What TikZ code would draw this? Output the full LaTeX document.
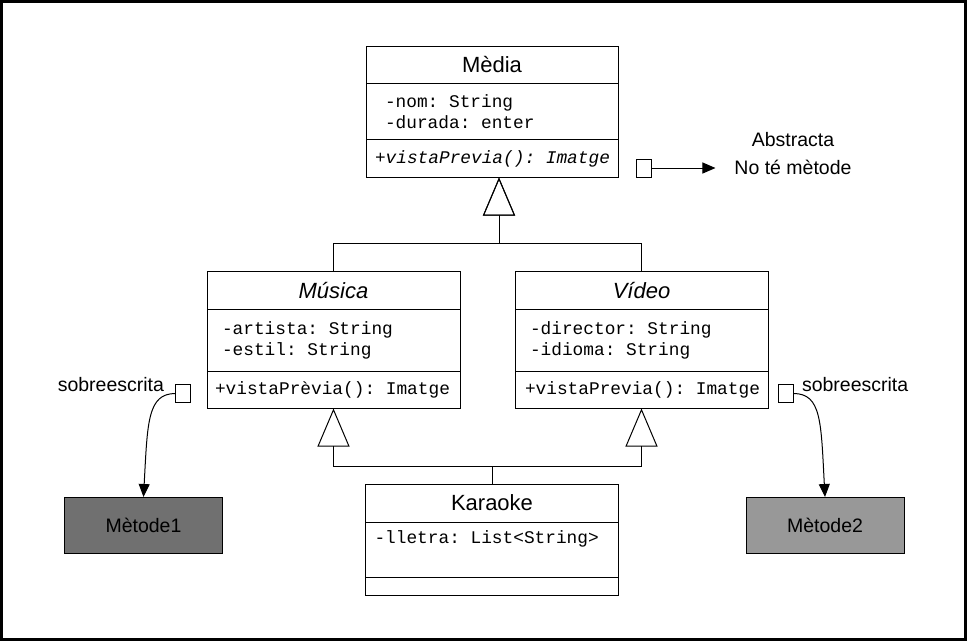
\documentclass[tikz,border=0pt]{standalone}
\usepackage{fontspec}
\setmainfont{Liberation Sans}
\setmonofont{Liberation Mono}
\usetikzlibrary{arrows.meta,positioning}
\definecolor{metodeA}{RGB}{112,112,112}
\definecolor{metodeB}{RGB}{152,152,152}

\begin{document}
\begin{tikzpicture}[x=1pt, y=-1pt, line width=1pt,
  every node/.style = {inner sep=0pt, outer sep=0pt},
  titlebox/.style = {draw, minimum height=38pt, minimum width=253pt,
    font=\fontsize{22}{26}\selectfont},
  cellbox/.style = {draw, minimum width=253pt},
  attr/.style = {align=left, font=\fontsize{17.8}{21}\selectfont\ttfamily},
  lbl/.style = {font=\fontsize{19.5}{27.3}\selectfont},
  note/.style = {draw, fill=white, minimum width=15pt, minimum height=18pt},
  metode/.style = {draw, minimum width=158pt, minimum height=56pt,
    font=\fontsize{19.5}{24}\selectfont},
  gen/.style = {-{Triangle[open, length=38pt, width=32pt]}},
  ptr/.style = {-{Triangle[length=13pt, width=11pt]}}]
  \useasboundingbox (0,0) rectangle (967,641);
  \draw[line width=3pt] (1.5,1.5) rectangle (965.5,639.5);

  % Media
  \node[titlebox, minimum height=37pt, minimum width=252pt] (media) at (492,65) {Mèdia};
  \node[cellbox, minimum width=252pt, minimum height=56pt, below=0pt of media] (mediaAttr) {};
  \node[cellbox, minimum width=252pt, minimum height=38pt, below=0pt of mediaAttr] (mediaOp) {};
  \node[attr, right=19pt of mediaAttr.west] (mediaAttrTxt) {-nom: String\\-durada: enter};
  \node[attr, right=9pt of mediaOp.west, font=\fontsize{17.8}{21}\selectfont\ttfamily\itshape]
    (mediaOpTxt) {+vistaPrevia(): Imatge};

  % Musica
  \node[titlebox, font=\fontsize{22}{26}\selectfont\itshape] (musica) at (333.5,290.5) {Música};
  \node[cellbox, minimum height=62pt, below=0pt of musica] (musicaAttr) {};
  \node[cellbox, minimum height=37pt, below=0pt of musicaAttr] (musicaOp) {};
  \node[attr, right=15pt of musicaAttr.west] (musicaAttrTxt) {-artista: String\\-estil: String};
  \node[attr, right=8pt of musicaOp.west] (musicaOpTxt) {+vistaPrèvia(): Imatge};

  % Video
  \node[titlebox, font=\fontsize{22}{26}\selectfont\itshape] (video) at (641.5,290.5) {Vídeo};
  \node[cellbox, minimum height=62pt, below=0pt of video] (videoAttr) {};
  \node[cellbox, minimum height=37pt, below=0pt of videoAttr] (videoOp) {};
  \node[attr, right=15pt of videoAttr.west] (videoAttrTxt) {-director: String\\-idioma: String};
  \node[attr, right=10pt of videoOp.west] (videoOpTxt) {+vistaPrevia(): Imatge};

  % Karaoke
  \node[titlebox] (karaoke) at (492,503) {Karaoke};
  \node[cellbox, minimum height=55pt, below=0pt of karaoke] (karaokeAttr) {};
  \node[cellbox, minimum height=18pt, below=0pt of karaokeAttr] (karaokeOp) {};
  \node[attr, anchor=base west] (karaokeAttrTxt) at ([shift={(9,21)}]karaokeAttr.north west)
    {-lletra: List<String>};

  % herencia
  \draw[gen] (musica.north) -- ++(0,-28) -| ([xshift=7pt]mediaOp.south);
  \draw[gen] (video.north) -- ++(0,-28) -| ([xshift=7pt]mediaOp.south);
  \draw[gen] (karaoke.north) -- ++(0,-18) -| (musicaOp.south);
  \draw[gen] (karaoke.north) -- ++(0,-18) -| (videoOp.south);

  % notes
  \node[note] (noteMedia) at (643.5,168) {};
  \node[lbl, align=center, inner xsep=19pt] (abstracta) at (793,153.5) {Abstracta\\No té mètode};
  \draw[ptr] (noteMedia) -- (noteMedia -| abstracta.west);

  \node[metode, fill=metodeA] (metode1) at (143.5,525) {Mètode1};
  \node[metode, fill=metodeB] (metode2) at (825,525) {Mètode2};

  \node[note] (noteMusica) at (183,393.5) {};
  \node[lbl, anchor=base east] (sobre1) at (164,391) {sobreescrita};
  \draw[ptr] (noteMusica.west) .. controls +(-28,0) and +(4,-75) .. (metode1.north);

  \node[note] (noteVideo) at (786,393.5) {};
  \node[lbl, anchor=base west] (sobre2) at (802,391) {sobreescrita};
  \draw[ptr] (noteVideo.east) .. controls +(28,0) and +(-4,-75) .. (metode2.north);
\end{tikzpicture}
\end{document}
